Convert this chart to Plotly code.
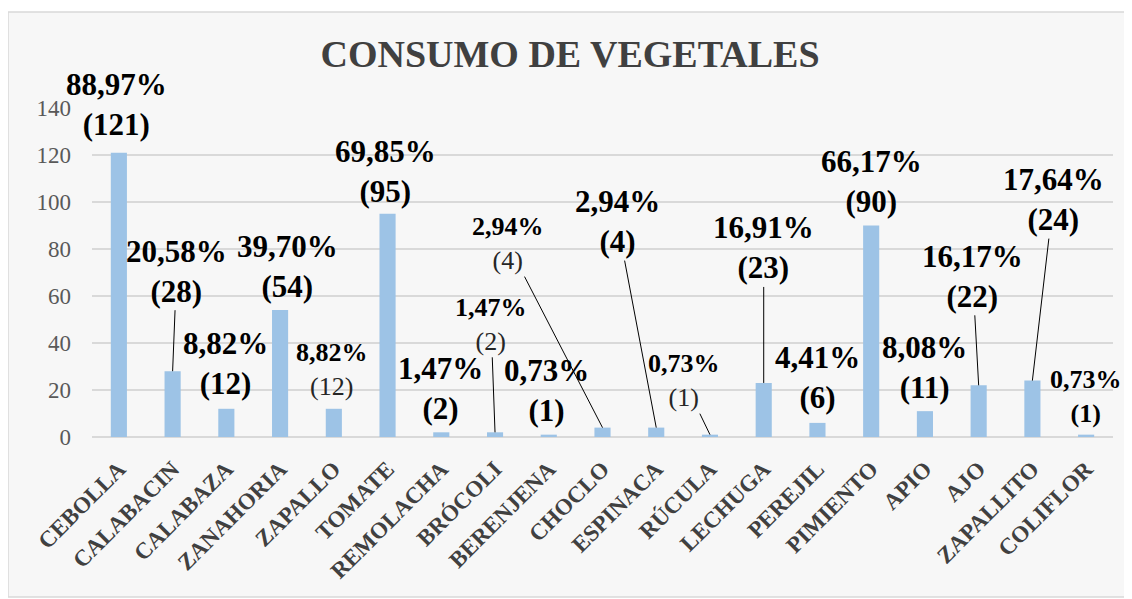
import plotly.graph_objects as go

# ---- data ----
categories = ["CEBOLLA", "CALABACIN", "CALABAZA", "ZANAHORIA", "ZAPALLO", "TOMATE",
              "REMOLACHA", "BRÓCOLI", "BERENJENA", "CHOCLO", "ESPINACA", "RÚCULA",
              "LECHUGA", "PEREJIL", "PIMIENTO", "APIO", "AJO", "ZAPALLITO", "COLIFLOR"]
counts = [121, 28, 12, 54, 12, 95, 2, 2, 1, 4, 4, 1, 23, 6, 90, 11, 22, 24, 1]
percents = [88.97, 20.58, 8.82, 39.70, 8.82, 69.85, 1.47, 1.47, 0.73, 2.94, 2.94, 0.73,
            16.91, 4.41, 66.17, 8.08, 16.17, 17.64, 0.73]
y_ticks = [0, 20, 40, 60, 80, 100, 120, 140]

# ---- label styling (pixel offsets of label from bar top, sizes, leader lines) ----
label_dx = [-2, 4, -1, 7, -2, -2, -1, -4, -2, -95, -39, -26, 0, 0, 0, 0, -6, 21, 0]
label_dy = [-48, -100, -45, -44, -39, -42, -44, -108, -44, -184, -206, -54, -135, -45, -44, -44, -109, -181, -38]
label_small = [False, False, False, False, True, False, False, True, False, True, False, True,
               False, False, False, False, False, False, True]
count_bold = [True, True, True, True, False, True, True, False, True, False, True, False,
              True, True, True, True, True, True, True]
leader = [False, True, False, False, False, False, False, True, False, True, True, True,
          True, False, False, False, True, True, False]

SERIF = "Liberation Serif, Times New Roman, serif"

# figure is placed at (8,8) in the page by the default body margin
W, H = 1124, 591
L, R, T, B = 84, 19, 100, 162
PW, PH = W - L - R, H - T - B

fig = go.Figure()
fig.add_trace(go.Bar(
    x=categories, y=counts, width=0.3,
    marker=dict(color="#9DC3E6", line=dict(width=0)),
    hoverinfo="x+y",
))

annotations = []
for i, cat in enumerate(categories):
    pct = f"{percents[i]:.2f}".replace(".", ",") + "%"
    cnt = f"({counts[i]})"
    cnt_txt = f"<b>{cnt}</b>" if count_bold[i] else f"<span style='color:#262626'>{cnt}</span>"
    text = f"<b>{pct}</b><br>{cnt_txt}"
    annotations.append(dict(
        x=cat, y=counts[i], xref="x", yref="y",
        text=text, showarrow=True,
        ax=label_dx[i], ay=label_dy[i],
        arrowhead=0, arrowwidth=1, standoff=0,
        arrowcolor="black" if leader[i] else "rgba(0,0,0,0)",
        font=dict(family=SERIF, size=26 if label_small[i] else 31, color="black"),
        align="center",
    ))

fig.update_layout(
    width=W, height=H,
    margin=dict(l=L, r=R, t=T, b=B, autoexpand=False),
    paper_bgcolor="white",
    plot_bgcolor="rgba(0,0,0,0)",
    showlegend=False,
    title=dict(
        text="<b>CONSUMO DE VEGETALES</b>",
        x=0.5, xanchor="center", y=1 - 46 / H, yanchor="middle", yref="container",
        font=dict(family=SERIF, size=38, color="#404040"),
    ),
    annotations=annotations,
    shapes=[dict(
        type="rect", xref="paper", yref="paper", layer="below",
        x0=(0 - L) / PW, x1=(1120 - L) / PW,
        y0=(T + PH - 589) / PH, y1=(T + PH - 4) / PH,
        fillcolor="#F7F7F7", line=dict(color="#D9D9D9", width=1.5),
    )],
)

fig.update_yaxes(
    range=[0, 140], tickvals=y_ticks, showgrid=True, gridcolor="#D9D9D9", gridwidth=1.5,
    zeroline=True, zerolinecolor="#D9D9D9", zerolinewidth=1.5, automargin=False,
    showline=False, ticks="", ticklabelstandoff=20,
    tickfont=dict(family=SERIF, size=23, color="#595959"),
)
fig.update_xaxes(
    range=[-0.5, len(categories) - 0.5], autorange=False,
    tickangle=-45, showgrid=False, showline=False, ticks="", automargin=False,
    ticklabelstandoff=13,
    tickfont=dict(family=SERIF, size=23, color="#404040"),
    tickprefix="<b>", ticksuffix="</b>",
)

fig.write_html("out.html")
